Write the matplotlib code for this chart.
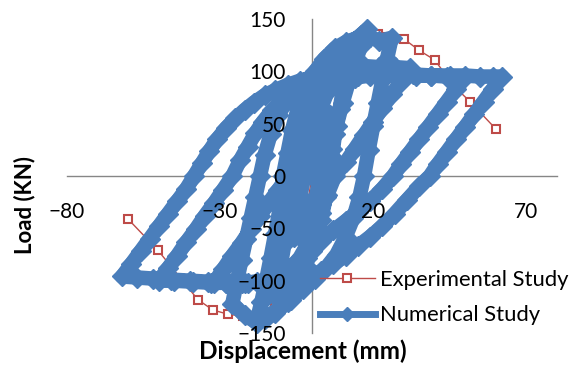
import numpy as np
import matplotlib
matplotlib.use("Agg")
import matplotlib.pyplot as plt

plt.rcParams['font.family'] = ['Lato', 'DejaVu Sans']

# Experimental study: envelope points (displacement mm, load kN)
exp_disp = [-60.1, -50.3, -37.3, -32.4, -27.5, -22.5, -17, -12, -7, -3, 0,
            3, 7, 12, 17, 21.5, 24.5, 30, 35, 40, 46.7, 51.6, 60]
exp_load = [-41, -71, -118, -128, -132, -134, -133, -125, -100, -55, 0,
            55, 100, 122, 132, 136, 133, 131, 120, 111, 85, 71, 45]

# Numerical study: cycles of increasing amplitude (disp, load)
num_c1 = [(0, 0), (1, 18), (2, 32), (3, 43), (4.5, 52), (6, 58), (5, 40), (4, 22),
          (2.5, 0), (1.5, -18), (0, -32), (-1.5, -43), (-3.5, -52), (-6, -58),
          (-5, -40), (-4, -22), (-2.5, 0), (-1.5, 18), (0, 35), (1.5, 50)]
num_c2 = [(3, 65), (5, 80), (7, 92), (9.5, 104), (12, 112), (10.5, 88), (9, 64),
          (7.5, 40), (6.5, 18), (5.5, 0), (4.5, -20), (3, -42), (1, -62), (-1.5, -78),
          (-4, -92), (-7, -104), (-9.5, -110), (-12, -115), (-10.5, -90), (-9, -65),
          (-7.5, -40), (-6.5, -18), (-5.5, 0), (-4.5, 20), (-3, 42), (-1, 62),
          (1.5, 80), (4, 95), (7, 106)]
num_c3 = [(10, 118), (13, 128), (16, 135), (18, 140), (16, 124), (14, 108),
          (12, 90), (10, 70), (8, 48), (6.5, 26), (5, 0), (3.5, -22), (2, -44),
          (0, -66), (-2, -86), (-4.5, -104), (-8, -120), (-12, -131),
          (-15.5, -137), (-18, -138), (-16.5, -120), (-15, -100), (-13.5, -78),
          (-12, -55), (-10.5, -30), (-9.5, 0), (-8, 22), (-6.5, 44), (-4.5, 66),
          (-2, 85), (1, 100), (4, 112), (7.5, 122), (11, 128)]
num_c4 = [(15, 132), (19, 133), (22, 129), (26, 132), (24.5, 112), (23, 92),
          (21.5, 70), (20, 48), (18.5, 25), (17, 0), (15.5, -20), (13.5, -40),
          (11, -58), (8, -75), (4.5, -88), (1, -98), (-3, -108), (-7, -118),
          (-11, -127), (-15, -135), (-18, -140), (-22, -133), (-26, -122),
          (-24.5, -100), (-23, -80), (-21.5, -60), (-20, -40), (-18.5, -20),
          (-17, 0), (-15.5, 20), (-13.5, 40), (-11, 58), (-8, 73), (-4.5, 85),
          (-1, 94), (3, 100), (7, 104), (12, 105), (17, 105), (22, 104)]
num_c5 = [(27, 104), (32, 103), (29, 90), (26, 78), (23, 65), (20, 52), (17, 39),
          (14, 26), (11, 13), (7.5, 0), (5, -18), (3, -35), (1, -50), (-1.5, -65),
          (-4, -78), (-7, -88), (-10, -95), (-14, -99), (-18, -101), (-23, -102),
          (-28, -102), (-32, -102), (-29, -89), (-26, -76), (-23, -64), (-20, -51),
          (-17, -38), (-14, -25), (-11, -13), (-7.7, 0), (-6, 18), (-4.5, 35),
          (-3, 50), (-0.5, 64), (2.5, 75), (6, 84), (10, 90), (14, 94), (19, 96),
          (24, 97), (29, 97), (34, 96), (39, 96), (44, 95)]
num_c6 = [(50, 95), (47, 83), (44, 71), (41, 59), (38, 47), (35, 35), (32, 23),
          (29, 11), (26.5, 0), (23, -12), (19, -24), (15, -34), (11, -43), (7, -52),
          (3, -62), (0, -72), (-3, -82), (-6, -90), (-10, -96), (-15, -100),
          (-21, -102), (-27, -102), (-33, -102), (-39, -101), (-45, -100),
          (-50, -100), (-47, -88), (-44, -76), (-41, -63), (-38, -51), (-35, -38),
          (-32, -26), (-29, -13), (-26, 0), (-23.5, 15), (-21, 28), (-18.5, 41),
          (-16, 52), (-13, 63), (-10, 72), (-7, 79), (-3.5, 85), (0, 89), (4, 92),
          (9, 94), (15, 96), (21, 97), (27, 97), (33, 97), (39, 96), (45, 96),
          (50, 96), (55, 95), (59, 95)]
num_c7 = [(62, 95), (59, 83), (56, 71), (53, 59), (50, 47), (47, 35), (44, 23),
          (41, 11), (38.5, 0), (35, -10), (31, -23), (27, -36), (23, -48), (19, -58),
          (15, -67), (11, -76), (7, -84), (3, -91), (-1, -96), (-5, -99), (-10, -101),
          (-16, -102), (-22, -102), (-28, -102), (-34, -101), (-40, -100), (-46, -99),
          (-52, -98), (-57, -97), (-62, -96), (-59, -84), (-56, -72), (-53, -60),
          (-50, -48), (-47, -36), (-44, -24), (-41, -12), (-38.5, 0), (-36, 12),
          (-33.5, 24), (-31, 35), (-28, 46), (-25, 55), (-22, 63), (-19, 70),
          (-15.5, 77), (-12, 82), (-8, 87), (-4, 91), (0, 94), (4, 96)]

x_ticks = [-80, -30, 20, 70]
y_ticks = [-150, -100, -50, 0, 50, 100, 150]

num = np.array(num_c1 + num_c2 + num_c3 + num_c4 + num_c5 + num_c6 + num_c7)

fig = plt.figure(figsize=(5.76, 3.65), dpi=100)
ax = fig.add_axes([67 / 576, 1 - 333 / 365, 490 / 576, 314 / 365])

ax.plot(exp_disp, exp_load, color='#BE4B48', lw=1, marker='s', ms=6,
        mfc='white', mec='#BE4B48', mew=1.5, label='Experimental Study', zorder=3)
ax.plot(num[:, 0], num[:, 1], color='#4A7EBB', lw=10.5, marker='D', ms=10,
        mfc='#4A7EBB', mec='#4A7EBB', label='Numerical Study', zorder=3)

ax.set_xlim(-80, 80)
ax.set_ylim(-150, 150)
ax.set_xticks(x_ticks)
ax.set_yticks(y_ticks)

for side in ['top', 'right']:
    ax.spines[side].set_visible(False)
ax.spines['left'].set_position(('data', 0))
ax.spines['bottom'].set_position(('data', 0))
for side in ['left', 'bottom']:
    ax.spines[side].set_color('#868686')
    ax.spines[side].set_linewidth(1.0)
    ax.spines[side].set_zorder(2)
ax.tick_params(length=0, labelsize=15, pad=19)
# tick labels sit on top of the curves, as in the original
ax.xaxis.set_zorder(5)
ax.yaxis.set_zorder(5)

ax.set_xlabel('Displacement (mm)', fontsize=17.5, fontweight='bold')
ax.xaxis.set_label_coords((303 - 67) / 490, (333 - 351) / 314)
ax.xaxis.label.set_va('center')
ax.set_ylabel('Load (KN)', fontsize=16, fontweight='bold')
ax.yaxis.set_label_coords((25 - 67) / 490, (333 - 205) / 314)
ax.yaxis.label.set_va('center')

leg = ax.legend(loc='upper left', bbox_to_anchor=(320 / 576, 1 - 270 / 365),
                bbox_transform=fig.transFigure, frameon=False, fontsize=15.8,
                handlelength=2.5, handletextpad=0.25, labelspacing=0.7,
                borderpad=0, borderaxespad=0)
leg.legend_handles[1].set_linewidth(5)
leg.legend_handles[1].set_markersize(6.8)

fig.savefig('out.png', dpi=100)
